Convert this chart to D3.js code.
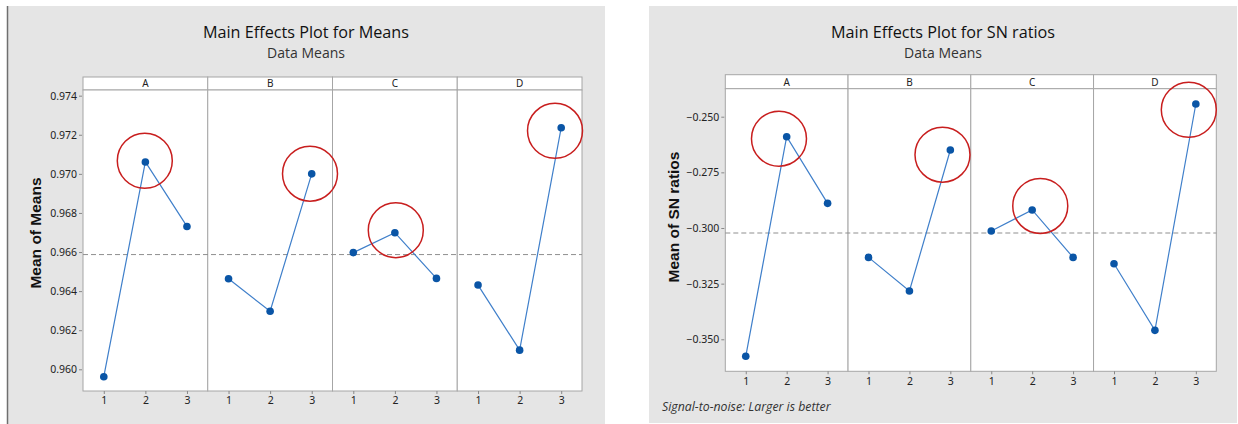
<!DOCTYPE html>
<html>
<head>
<meta charset="utf-8">
<script src="https://cdn.jsdelivr.net/npm/d3@7"></script>
<style>
  body { margin: 0; background: #fff; }
  svg { display: block; }
  .tick text { font-family: "Noto Sans", sans-serif; font-size: 10.5px; fill: #222; }
  .tick line { stroke: #888; }
</style>
</head>
<body>
<svg width="1238" height="424"></svg>
<script>
// factors and levels
var factors = ["A", "B", "C", "D"];
var levels = [1, 2, 3];

// Main effects for means (level 1,2,3 of each factor)
var meansA = [0.95962, 0.97061, 0.96731];
var meansB = [0.96463, 0.96297, 0.97000];
var meansC = [0.96597, 0.96699, 0.96465];
var meansD = [0.96431, 0.96098, 0.97236];
var meansTicks = [0.960, 0.962, 0.964, 0.966, 0.968, 0.970, 0.972, 0.974];
var meansGrand = 0.96587;
// red circles [level, value] drawn by hand around best level
var meansCircles = [[1.986, 0.97067], [2.959, 0.97001], [2.022, 0.96712], [2.851, 0.97220]];

// Main effects for SN ratios
var snA = [-0.35764, -0.25898, -0.28893];
var snB = [-0.31321, -0.32828, -0.26496];
var snC = [-0.30135, -0.29189, -0.31321];
var snD = [-0.31604, -0.34598, -0.24429];
var snTicks = [-0.350, -0.325, -0.300, -0.275, -0.250];
var snGrand = -0.30225;
var snCircles = [[1.812, -0.25988], [2.808, -0.26707], [2.198, -0.29009], [2.828, -0.24686]];

var svg = d3.select("svg");

function drawChart(o) {
  var g = svg.append("g");

  // grey background
  g.append("rect")
    .attr("x", o.bg[0]).attr("y", o.bg[1])
    .attr("width", o.bg[2]).attr("height", o.bg[3])
    .attr("fill", "#e5e5e5");
  if (o.leftBorder) {
    g.append("line")
      .attr("x1", o.bg[0] + 0.5).attr("x2", o.bg[0] + 0.5)
      .attr("y1", o.bg[1]).attr("y2", o.bg[1] + o.bg[3])
      .attr("stroke", "#6f6f6f").attr("stroke-width", 1.5);
  }

  var cx = o.bg[0] + o.bg[2] / 2;
  g.append("text")
    .attr("x", cx).attr("y", 38)
    .attr("text-anchor", "middle")
    .style("font-family", "'Open Sans', sans-serif")
    .style("font-size", "16.2px")
    .style("font-weight", "500")
    .attr("fill", "#111")
    .text(o.title);
  g.append("text")
    .attr("x", cx).attr("y", 58)
    .attr("text-anchor", "middle")
    .style("font-family", "'Open Sans', sans-serif")
    .style("font-size", "14px")
    .attr("fill", "#333")
    .text("Data Means");

  var panelW = (o.right - o.left) / factors.length;

  var xBand = d3.scaleBand().domain(factors).range([o.left, o.right]);
  var yScale = d3.scaleLinear().domain(o.yDomain).range([o.bottom, o.plotTop]);

  // panels
  factors.forEach(function(f, i) {
    var x0 = xBand(f);
    var xScale = d3.scaleLinear().domain([0.5, 3.5]).range([x0, x0 + panelW]);

    g.append("rect")
      .attr("x", x0).attr("y", o.stripTop)
      .attr("width", panelW).attr("height", o.plotTop - o.stripTop)
      .attr("fill", "#fff").attr("stroke", "#a6a6a6");
    g.append("text")
      .attr("x", x0 + panelW / 2).attr("y", o.plotTop - 3)
      .attr("text-anchor", "middle")
      .style("font-family", "'Noto Sans', sans-serif")
      .style("font-size", "10px")
      .attr("fill", "#222")
      .text(f);

    g.append("rect")
      .attr("x", x0).attr("y", o.plotTop)
      .attr("width", panelW).attr("height", o.bottom - o.plotTop)
      .attr("fill", "#fff").attr("stroke", "#a6a6a6");

    var ax = g.append("g")
      .attr("transform", "translate(0," + o.bottom + ")")
      .call(d3.axisBottom(xScale).tickValues(levels).tickFormat(d3.format("d")).tickSize(3).tickPadding(3));
    ax.select(".domain").remove();
    ax.selectAll(".tick text").style("font-size", "10.5px");
  });

  // dashed grand mean line
  g.append("line")
    .attr("x1", o.left).attr("x2", o.right)
    .attr("y1", yScale(o.grand)).attr("y2", yScale(o.grand))
    .attr("stroke", "#8f8f8f").attr("stroke-dasharray", "5,3");

  // lines + points
  factors.forEach(function(f, i) {
    var x0 = xBand(f);
    var xScale = d3.scaleLinear().domain([0.5, 3.5]).range([x0, x0 + panelW]);
    var vals = o.series[i];
    var line = d3.line()
      .x(function(d, j) { return xScale(levels[j]); })
      .y(function(d) { return yScale(d); });
    g.append("path")
      .datum(vals)
      .attr("d", line)
      .attr("fill", "none")
      .attr("stroke", "#3f7fca")
      .attr("stroke-width", 1.2);
    g.selectAll(null)
      .data(vals)
      .enter().append("circle")
      .attr("cx", function(d, j) { return xScale(levels[j]); })
      .attr("cy", function(d) { return yScale(d); })
      .attr("r", 3.8)
      .attr("fill", "#0a55a6");

    var c = o.circles[i];
    g.append("circle")
      .attr("cx", xScale(c[0]))
      .attr("cy", yScale(c[1]))
      .attr("r", 27.5)
      .attr("fill", "none")
      .attr("stroke", "#c81e1e")
      .attr("stroke-width", 1.5);
  });

  // y axis
  var ay = g.append("g")
    .attr("transform", "translate(" + (o.left - 1) + ",0)")
    .call(d3.axisLeft(yScale).tickValues(o.ticks).tickFormat(d3.format(".3f")).tickSize(3).tickPadding(2));
  ay.select(".domain").remove();

  g.append("text")
    .attr("transform", "translate(" + o.yTitle[0] + "," + o.yTitle[1] + ") rotate(-90)")
    .attr("text-anchor", "middle")
    .style("font-family", "'Liberation Sans', Arial, sans-serif")
    .style("font-size", "15.5px")
    .style("font-weight", "bold")
    .attr("fill", "#111")
    .text(o.yLabel);

  return g;
}

drawChart({
  bg: [7, 6, 598, 418], leftBorder: true,
  title: "Main Effects Plot for Means",
  left: 83, right: 582, stripTop: 77, plotTop: 90, bottom: 391,
  yDomain: [0.95889, 0.97429],
  ticks: meansTicks, grand: meansGrand,
  series: [meansA, meansB, meansC, meansD],
  circles: meansCircles,
  yLabel: "Mean of Means", yTitle: [41, 233]
});

var right = drawChart({
  bg: [649, 6, 588, 417], leftBorder: false,
  title: "Main Effects Plot for SN ratios",
  left: 725.3, right: 1216.3, stripTop: 74.7, plotTop: 88.7, bottom: 371.3,
  yDomain: [-0.36438, -0.23742],
  ticks: snTicks, grand: snGrand,
  series: [snA, snB, snC, snD],
  circles: snCircles,
  yLabel: "Mean of SN ratios", yTitle: [679, 217]
});

right.append("text")
  .attr("x", 662).attr("y", 411)
  .style("font-family", "'Open Sans', sans-serif")
  .style("font-size", "12.3px")
  .style("font-style", "italic")
  .attr("fill", "#333")
  .text("Signal-to-noise: Larger is better");
</script>
</body>
</html>
